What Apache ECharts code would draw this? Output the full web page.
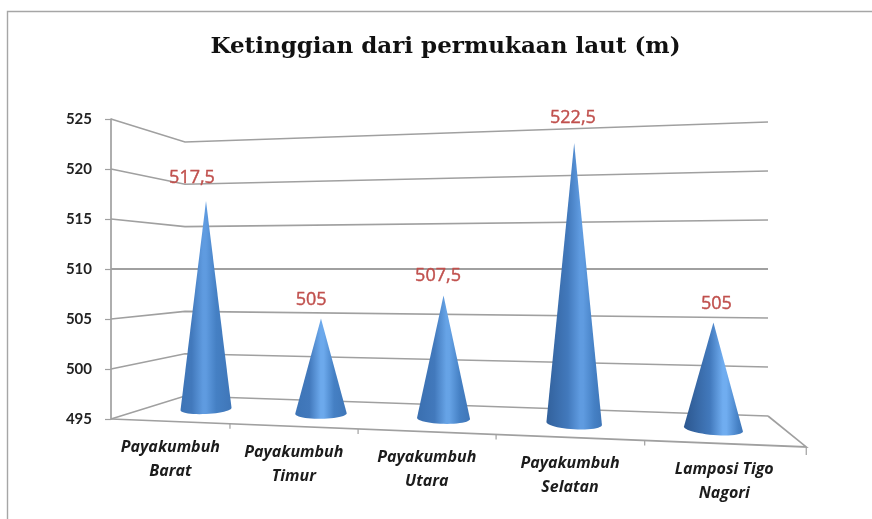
<!DOCTYPE html>
<html>
<head>
<meta charset="utf-8">
<script src="https://cdn.jsdelivr.net/npm/echarts@6/dist/echarts.min.js"></script>
<style>html,body{margin:0;padding:0;background:#fff}#c{width:872px;height:519px}</style>
</head>
<body>
<div id="c"></div>
<script>
const titleText = 'Ketinggian dari permukaan laut (m)';
const categories = ['Payakumbuh\nBarat', 'Payakumbuh\nTimur', 'Payakumbuh\nUtara', 'Payakumbuh\nSelatan', 'Lamposi Tigo\nNagori'];
const elevations = [517.5, 505, 507.5, 522.5, 505];
const axisMin = 495, axisMax = 525, axisStep = 5;
const gridValues = [495, 500, 505, 510, 515, 520, 525];

const lineColor = '#a0a0a0';
const coneEdgeColors = ['#3d74b6', '#3d74b6', '#3a6fb0', '#32619c', '#2c578f'];
const coneGlowColors = ['#5f9be0', '#6ca9ec', '#66a3e6', '#5f9be0', '#70adf0'];
const n = categories.length;

// 3D look: how band positions from the category scale are bent into perspective
const frontX = (left, k) => left + 1545 * (Math.pow(1.077, k) - 1);
const frontY = (y0, x, left) => y0 + 0.0402 * (x - left);
const coneX = (left, i) => left + 95 + 1742 * (Math.pow(1.066, i) - 1);
const bandIndex = (api, sys, i) => Math.round((api.coord([i, axisMin])[0] - sys.x) / (sys.width / n) - 0.5);

function wall(params, api) {
  const sys = params.coordSys;
  const v = api.value(1);
  const y = api.coord([0, v])[1];
  const mid = api.coord([0, (axisMin + axisMax) / 2])[1];
  const L = sys.x, backL = L + 74, backR = L + 657;
  const pts = [[L, y], [backL, mid + (y - mid) * 0.847], [backR, mid + (y - mid) * 0.98]];
  return {
    type: 'polyline', silent: true,
    shape: { points: pts },
    style: { fill: null, stroke: lineColor, lineWidth: v === 510 ? 2 : 1.6 }
  };
}

function floorEdge(params, api) {
  const sys = params.coordSys;
  const y0 = api.coord([0, axisMin])[1];
  const mid = api.coord([0, (axisMin + axisMax) / 2])[1];
  const L = sys.x, R = frontX(L, n) + 1.5;
  const children = [{
    type: 'polyline', silent: true,
    shape: { points: [[L, y0], [R, frontY(y0, R, L)], [L + 657, mid + (y0 - mid) * 0.98]] },
    style: { fill: null, stroke: lineColor, lineWidth: 1.7 }
  }];
  for (let k = 1; k <= n; k++) {
    const x = k === n ? R : frontX(L, k);
    const y = frontY(y0, x, L);
    children.push({
      type: 'line', silent: true,
      shape: { x1: x, y1: y, x2: x, y2: y + (k === n ? 8 : 5) },
      style: { stroke: lineColor, lineWidth: 1.2 }
    });
  }
  return { type: 'group', children };
}

function cone(params, api) {
  const sys = params.coordSys;
  const i = bandIndex(api, sys, api.value(0));
  const v = api.value(1);
  const unit = api.size([0, 1])[1];
  const y0 = api.coord([0, axisMin])[1];
  const cx = coneX(sys.x, i);
  const cy = y0 - 10 + 0.0394 * (cx - 206);
  const hw = 25.5 + 0.25 * i * i;
  const apexY = cy - (v - axisMin) * unit * (0.924 + 0.032 * i + 0.003 * i * (i - 3));
  const tilt = -1.2 + 0.9 * i;
  const b = 5 + 0.25 * i;
  const pts = [[cx, apexY]];
  for (let a = 0; a <= 24; a++) {
    const th = Math.PI * a / 24;
    pts.push([cx - hw * Math.cos(th), cy - tilt * Math.cos(th) + b * Math.sin(th)]);
  }
  const h = 0.44 + 0.055 * i;
  const glow = coneGlowColors[i];
  return {
    type: 'group',
    children: [{
      type: 'polygon', silent: true,
      shape: { points: pts },
      style: {
        fill: {
          type: 'linear', x: 0, y: 0, x2: 1, y2: 0,
          colorStops: [
            { offset: 0, color: coneEdgeColors[i] },
            { offset: h - 0.22, color: '#4279bc' },
            { offset: h, color: glow },
            { offset: Math.min(0.95, h + 0.06), color: glow },
            { offset: Math.min(0.98, h + 0.26), color: '#4580c4' },
            { offset: 1, color: '#3f76b8' }
          ]
        }
      }
    }, {
      type: 'text', silent: true,
      style: {
        x: cx - 14 + 4.25 * i,
        y: apexY - (15.5 + 0.36 * (v - axisMin)),
        text: String(v).replace('.', ','),
        fill: '#c0504d',
        stroke: '#c0504d',
        lineWidth: 0.4,
        font: '18px "Open Sans"',
        align: 'center', verticalAlign: 'middle'
      }
    }]
  };
}

function catLabel(params, api) {
  const sys = params.coordSys;
  const i = bandIndex(api, sys, api.value(0));
  const y0 = api.coord([0, axisMin])[1];
  const x = frontX(sys.x, i + 0.5);
  return {
    type: 'text', silent: true,
    style: {
      x: x + 1, y: frontY(y0, x, sys.x) + 38,
      text: categories[api.value(0)],
      fill: '#1c1c1c',
      font: 'italic bold 16px "Open Sans"',
      lineHeight: 24,
      align: 'center', verticalAlign: 'middle'
    }
  };
}

const chart = echarts.init(document.getElementById('c'), null, { renderer: 'canvas' });
chart.setOption({
  animation: false,
  backgroundColor: '#fff',
  title: {
    text: titleText, left: 445.5, top: 31,
    textAlign: 'center',
    padding: [5, 10, 5, 0],
    textStyle: { fontFamily: '"DejaVu Serif"', fontWeight: 'bold', fontSize: 23, color: '#111' }
  },
  graphic: [{
    type: 'polyline', silent: true, z: -1,
    shape: { points: [[7.5, 519], [7.5, 11.5], [872, 11.5]] },
    style: { fill: null, stroke: '#a6a6a6', lineWidth: 1.4 }
  }],
  grid: { left: 111, top: 119, width: 696, height: 300, containLabel: false },
  xAxis: { type: 'category', data: categories, show: false, boundaryGap: true },
  yAxis: {
    type: 'value', min: axisMin, max: axisMax, interval: axisStep,
    axisLine: { show: true, lineStyle: { color: lineColor, width: 1.7 } },
    axisTick: { show: true, length: 6, lineStyle: { color: lineColor, width: 1.2 } },
    axisLabel: { margin: 19, fontFamily: 'Lato', fontWeight: 'bold', fontSize: 15, color: '#222' },
    splitLine: { show: false }
  },
  series: [
    { type: 'custom', coordinateSystem: 'cartesian2d', clip: false, renderItem: wall,
      data: gridValues.map(v => [0, v]), encode: { x: 0, y: 1 }, z: 1 },
    { type: 'custom', coordinateSystem: 'cartesian2d', clip: false, renderItem: floorEdge,
      data: [[0, axisMin]], encode: { x: 0, y: 1 }, z: 2 },
    { type: 'custom', coordinateSystem: 'cartesian2d', clip: false, renderItem: catLabel,
      data: categories.map((c, i) => [i, axisMin]), encode: { x: 0, y: 1 }, z: 3 },
    { type: 'custom', coordinateSystem: 'cartesian2d', clip: false, renderItem: cone,
      data: elevations.map((v, i) => [i, v]), encode: { x: 0, y: 1 }, z: 4 }
  ]
});
</script>
</body>
</html>
